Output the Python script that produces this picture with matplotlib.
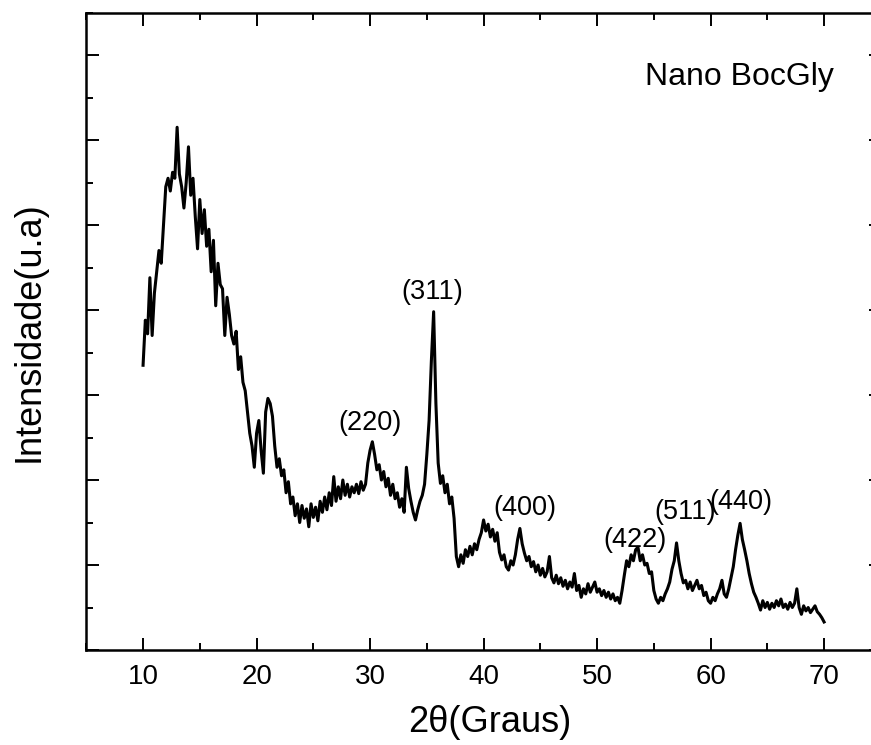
import numpy as np
import matplotlib
matplotlib.use('Agg')
import matplotlib.pyplot as plt
from matplotlib.ticker import MultipleLocator

plt.rcParams['font.family'] = ['Liberation Sans', 'DejaVu Sans']

# 2theta grid 10..70 every 0.2 deg, intensities (arb. units)
two_theta = np.linspace(10, 70, 301)
intensity = [
    3.35, 3.88, 3.72, 4.38, 3.70, 4.20, 4.45, 4.70, 4.55, 5.00,   # 10.0
    5.45, 5.55, 5.40, 5.62, 5.55, 6.15, 5.60, 5.45, 5.20, 5.50,   # 12.0
    5.92, 5.35, 5.55, 5.10, 4.72, 5.30, 4.90, 5.18, 4.75, 4.95,   # 14.0
    4.45, 4.82, 4.05, 4.55, 4.30, 4.25, 3.70, 4.15, 3.95, 3.70,   # 16.0
    3.60, 3.75, 3.30, 3.45, 3.15, 3.05, 2.80, 2.55, 2.40, 2.15,   # 18.0
    2.55, 2.70, 2.35, 2.08, 2.80, 2.96, 2.90, 2.75, 2.40, 2.15,   # 20.0
    2.25, 2.05, 2.12, 1.85, 1.98, 1.72, 1.80, 1.58, 1.72, 1.50,   # 22.0
    1.70, 1.55, 1.66, 1.45, 1.72, 1.56, 1.68, 1.52, 1.75, 1.62,   # 24.0
    1.80, 1.65, 1.85, 1.70, 2.04, 1.75, 1.92, 1.78, 2.00, 1.82,   # 26.0
    1.95, 1.80, 1.92, 1.85, 1.95, 1.84, 1.98, 1.88, 1.95, 2.20,   # 28.0
    2.35, 2.45, 2.30, 2.12, 2.18, 2.00, 2.10, 1.92, 2.02, 1.82,   # 30.0
    1.95, 1.78, 1.85, 1.68, 1.78, 1.62, 2.15, 1.90, 1.75, 1.62,   # 32.0
    1.53, 1.65, 1.75, 1.82, 1.95, 2.30, 2.70, 3.40, 3.98, 2.90,   # 34.0
    2.20, 1.96, 2.05, 1.85, 1.95, 1.72, 1.80, 1.55, 1.10, 0.98,   # 36.0
    1.12, 1.02, 1.18, 1.10, 1.22, 1.12, 1.25, 1.18, 1.30, 1.38,   # 38.0
    1.53, 1.40, 1.48, 1.33, 1.42, 1.28, 1.38, 1.15, 1.06, 1.12,   # 40.0
    0.98, 0.94, 1.05, 1.00, 1.12, 1.30, 1.43, 1.25, 1.14, 1.05,   # 42.0
    1.10, 0.98, 1.04, 0.92, 1.00, 0.88, 0.96, 0.86, 0.92, 1.10,   # 44.0
    0.85, 0.79, 0.88, 0.78, 0.85, 0.75, 0.82, 0.72, 0.80, 0.74,   # 46.0
    0.90, 0.70, 0.76, 0.62, 0.72, 0.66, 0.78, 0.68, 0.74, 0.80,   # 48.0
    0.68, 0.72, 0.64, 0.70, 0.62, 0.68, 0.60, 0.66, 0.58, 0.62,   # 50.0
    0.55, 0.70, 0.88, 1.05, 0.98, 1.12, 1.05, 1.18, 1.21, 1.05,   # 52.0
    1.12, 1.00, 1.02, 0.90, 0.92, 0.70, 0.60, 0.55, 0.62, 0.58,   # 54.0
    0.66, 0.72, 0.80, 0.95, 1.05, 1.26, 1.05, 0.90, 0.79, 0.82,   # 56.0
    0.72, 0.80, 0.70, 0.76, 0.82, 0.72, 0.76, 0.64, 0.68, 0.58,   # 58.0
    0.55, 0.62, 0.58, 0.66, 0.72, 0.82, 0.66, 0.62, 0.72, 0.85,   # 60.0
    0.98, 1.18, 1.35, 1.49, 1.30, 1.18, 1.05, 0.90, 0.78, 0.68,   # 62.0
    0.62, 0.55, 0.47, 0.58, 0.50, 0.56, 0.48, 0.55, 0.50, 0.58,   # 64.0
    0.52, 0.60, 0.50, 0.54, 0.48, 0.56, 0.50, 0.55, 0.72, 0.50,   # 66.0
    0.42, 0.52, 0.46, 0.50, 0.44, 0.48, 0.52, 0.45, 0.42, 0.38,   # 68.0
    0.33,                                                         # 70.0
]

peak_labels = ['(220)', '(311)', '(400)', '(422)', '(511)', '(440)']
peak_x = [30.0, 35.5, 43.65, 53.3, 57.75, 62.7]
peak_y = [2.67, 4.21, 1.67, 1.29, 1.62, 1.74]

fig = plt.figure(figsize=(8.71, 7.45), dpi=100)
ax = fig.add_axes([0.0991, 0.1275, 0.9122, 0.8557])

ax.plot(two_theta, intensity, color='black', lw=2.2)

for lab, px, py in zip(peak_labels, peak_x, peak_y):
    ax.text(px, py, lab, ha='center', va='center', fontsize=19.5)

ax.text(62.5, 6.74, 'Nano BocGly', ha='center', va='center', fontsize=23)

ax.set_xlim(5, 75)
ax.set_ylim(0, 7.5)
ax.xaxis.set_major_locator(MultipleLocator(10))
ax.xaxis.set_minor_locator(MultipleLocator(5))
ax.yaxis.set_major_locator(MultipleLocator(1))
ax.yaxis.set_minor_locator(MultipleLocator(0.5))
ax.tick_params(which='both', direction='in', top=True, right=True, width=1.4)
ax.tick_params(which='major', length=9, labelsize=20, pad=10)
ax.tick_params(which='minor', length=5)
ax.tick_params(axis='y', labelleft=False)
for s in ax.spines.values():
    s.set_linewidth(1.8)

ax.set_xlabel('2θ(Graus)', fontsize=26)
ax.set_ylabel('Intensidade(u.a)', fontsize=26)
ax.xaxis.set_label_coords(0.508, -0.086)
ax.yaxis.set_label_coords(-0.05, 0.5)

fig.savefig('out.png', dpi=100)
